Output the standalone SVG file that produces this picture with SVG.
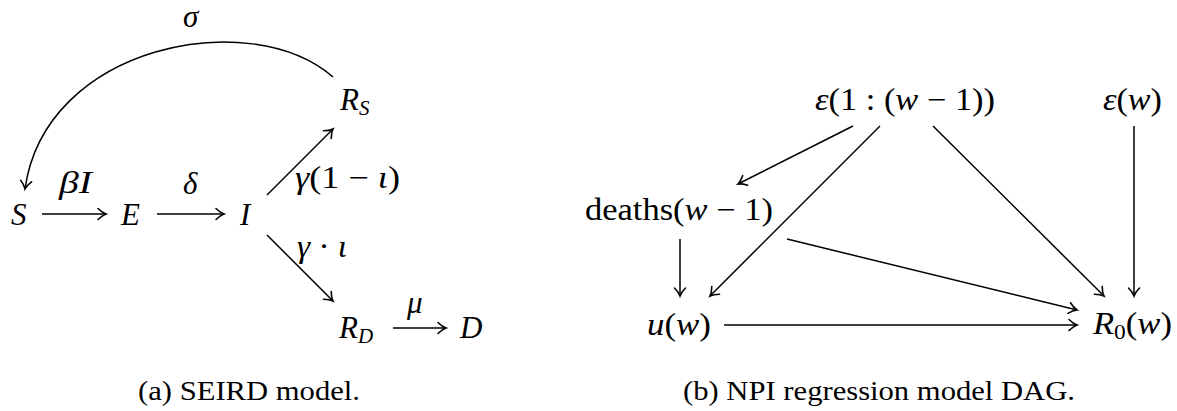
<svg xmlns="http://www.w3.org/2000/svg" width="1177" height="411" viewBox="0 0 1177 411">
<defs>
<marker id="ah" markerUnits="userSpaceOnUse" markerWidth="20" markerHeight="20" refX="0" refY="0" viewBox="-10 -10 20 20" orient="auto" overflow="visible">
<path d="M -8 -5.5 C -4.5 -2 -1.5 -0.5 0 0 C -1.5 0.5 -4.5 2 -8 5.5" fill="none" stroke="#000" stroke-width="1.6" stroke-linecap="round"/>
</marker>
<style>
.m{font-family:"Liberation Serif",serif;font-style:italic;font-size:31px;fill:#000}
.u{font-style:normal}
.s{font-size:21px}
.c{font-family:"Liberation Serif",serif;font-size:28px;fill:#000}
.e{fill:none;stroke:#000;stroke-width:1.5;marker-end:url(#ah)}
</style>
</defs>
<rect width="1177" height="411" fill="#fff"/>
<g id="connectors">
<path class="e" d="M333,77 C250,5 45,45 25,189"/>
<line class="e" x1="42" y1="214" x2="106" y2="214"/>
<line class="e" x1="157" y1="214" x2="224" y2="214"/>
<line class="e" x1="267" y1="195" x2="333" y2="129"/>
<line class="e" x1="267" y1="235" x2="333" y2="301"/>
<line class="e" x1="393" y1="328" x2="446" y2="328"/>
<line class="e" x1="853" y1="126" x2="738" y2="184"/>
<line class="e" x1="880" y1="126" x2="710" y2="296"/>
<line class="e" x1="933" y1="126" x2="1104" y2="296"/>
<line class="e" x1="1134" y1="126" x2="1134" y2="296"/>
<line class="e" x1="680" y1="239" x2="680" y2="296"/>
<line class="e" x1="787" y1="239" x2="1077" y2="310"/>
<line class="e" x1="724" y1="325" x2="1077" y2="325"/>
</g>
<g id="label-sigma"><text class="m" x="183" y="27">σ</text></g>
<g id="label-betaI"><text class="m" x="59" y="193" textLength="33" lengthAdjust="spacingAndGlyphs">βI</text></g>
<g id="label-delta"><text class="m" x="183" y="194">δ</text></g>
<g id="label-gamma1"><text class="m" x="295" y="188" textLength="105" lengthAdjust="spacingAndGlyphs">γ<tspan class="u">(1 − </tspan>ι<tspan class="u">)</tspan></text></g>
<g id="label-gamma2"><text class="m" x="297" y="257" textLength="50" lengthAdjust="spacingAndGlyphs">γ<tspan class="u"> · </tspan>ι</text></g>
<g id="label-mu"><text class="m" x="407" y="313">μ</text></g>
<g id="node-S"><text class="m" x="11" y="225">S</text></g>
<g id="node-E"><text class="m" x="121" y="225">E</text></g>
<g id="node-I"><text class="m" x="240" y="225">I</text></g>
<g id="node-RS"><text class="m" x="340" y="110">R<tspan class="s" dy="5">S</tspan></text></g>
<g id="node-RD"><text class="m" x="339" y="338">R<tspan class="s" dy="5">D</tspan></text></g>
<g id="node-D"><text class="m" x="460" y="338">D</text></g>
<g id="node-eps1"><text class="m" x="815" y="110" textLength="180" lengthAdjust="spacingAndGlyphs">ε<tspan class="u">(1 : (</tspan>w<tspan class="u"> − 1))</tspan></text></g>
<g id="node-epsw"><text class="m" x="1103" y="110" textLength="59" lengthAdjust="spacingAndGlyphs">ε<tspan class="u">(</tspan>w<tspan class="u">)</tspan></text></g>
<g id="node-deaths"><text class="m" x="585" y="220" textLength="188" lengthAdjust="spacingAndGlyphs"><tspan class="u">deaths(</tspan>w<tspan class="u"> − 1)</tspan></text></g>
<g id="node-u"><text class="m" x="647" y="335" textLength="64" lengthAdjust="spacingAndGlyphs">u<tspan class="u">(</tspan>w<tspan class="u">)</tspan></text></g>
<g id="node-R0"><text class="m" x="1093" y="334" textLength="79" lengthAdjust="spacingAndGlyphs">R<tspan class="s u" dy="5">0</tspan><tspan dy="-5" class="u">(</tspan>w<tspan class="u">)</tspan></text></g>
<g id="captions">
<text class="c" x="138" y="400" textLength="222" lengthAdjust="spacingAndGlyphs">(a) SEIRD model.</text>
<text class="c" x="683" y="400" textLength="392" lengthAdjust="spacingAndGlyphs">(b) NPI regression model DAG.</text>
</g>
</svg>
